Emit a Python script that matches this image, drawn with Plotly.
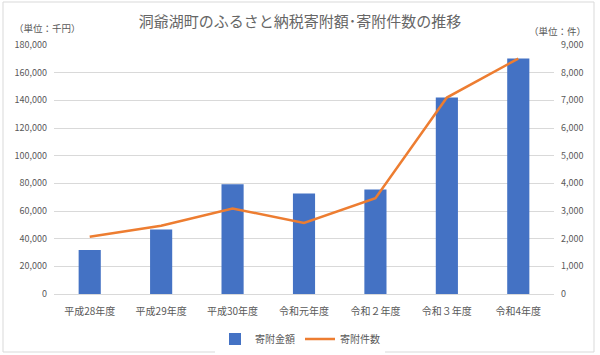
import plotly.graph_objects as go

categories = ["平成28年度", "平成29年度", "平成30年度", "令和元年度", "令和２年度", "令和３年度", "令和4年度"]
amounts = [31800, 46700, 79400, 72700, 75600, 142000, 170200]  # 千円
counts = [2070, 2470, 3090, 2570, 3460, 7100, 8510]  # 件

left_ticks = list(range(0, 180001, 20000))
right_ticks = list(range(0, 9001, 1000))

FONT = "Noto Sans CJK JP"
GRAY = "#595959"

fig = go.Figure()
fig.add_trace(go.Bar(x=categories, y=amounts, name="寄附金額",
                     marker=dict(color="#4472C4", line=dict(width=0)), yaxis="y"))
fig.add_trace(go.Scatter(x=categories, y=counts, name="寄附件数", mode="lines",
                         line=dict(color="#ED7D31", width=2.5), yaxis="y2"))

fig.update_layout(
    width=600, height=355,
    paper_bgcolor="white", plot_bgcolor="white",
    margin=dict(l=54, r=46, t=45, b=61, autoexpand=False),
    font=dict(family=FONT, color=GRAY, size=9),
    title=dict(text="洞爺湖町のふるさと納税寄附額･寄附件数の推移", x=0.5, xanchor="center",
               yref="container", y=1 - 22 / 355, yanchor="middle",
               font=dict(size=15, color="#666666", family=FONT)),
    bargap=0.69,
    showlegend=True,
    legend=dict(orientation="h", xref="container", x=0.5, xanchor="center",
                yref="container", y=1 - 339 / 355, yanchor="middle",
                font=dict(size=10, color=GRAY), itemwidth=30),
    xaxis=dict(showgrid=False, showline=True, linecolor="#D9D9D9", linewidth=1,
               tickfont=dict(size=10, color=GRAY), ticks="", automargin=False,
               ticklabelstandoff=8),
    yaxis=dict(range=[0, 180000], tickvals=left_ticks, tickformat=",", showgrid=True,
               gridcolor="#D9D9D9", gridwidth=1, zeroline=False, ticks="", automargin=False,
               tickfont=dict(size=9, color=GRAY), ticklabelstandoff=6),
    yaxis2=dict(range=[0, 9000], tickvals=right_ticks, tickformat=",", overlaying="y",
                side="right", showgrid=False, zeroline=False, ticks="", automargin=False,
                tickfont=dict(size=9, color=GRAY), ticklabelstandoff=6),
    shapes=[dict(type="rect", xref="paper", yref="paper", x0=-51 / 500, x1=(500 + 40) / 500,
                 y0=-58 / 249, y1=(249 + 43) / 249, line=dict(color="#D9D9D9", width=1))],
    annotations=[
        dict(text="（単位：千円）", xref="paper", yref="paper", x=-42 / 500, y=(249 + 17) / 249,
             xanchor="left", yanchor="middle", showarrow=False, font=dict(size=9.5, color=GRAY)),
        dict(text="（単位：件）", xref="paper", yref="paper", x=(500 + 34) / 500, y=(249 + 14) / 249,
             xanchor="right", yanchor="middle", showarrow=False, font=dict(size=9.5, color=GRAY)),
    ],
)

fig.write_html("out.html", config={"displayModeBar": False},
               post_script="document.body.style.margin='0';document.body.style.overflow='hidden';")
